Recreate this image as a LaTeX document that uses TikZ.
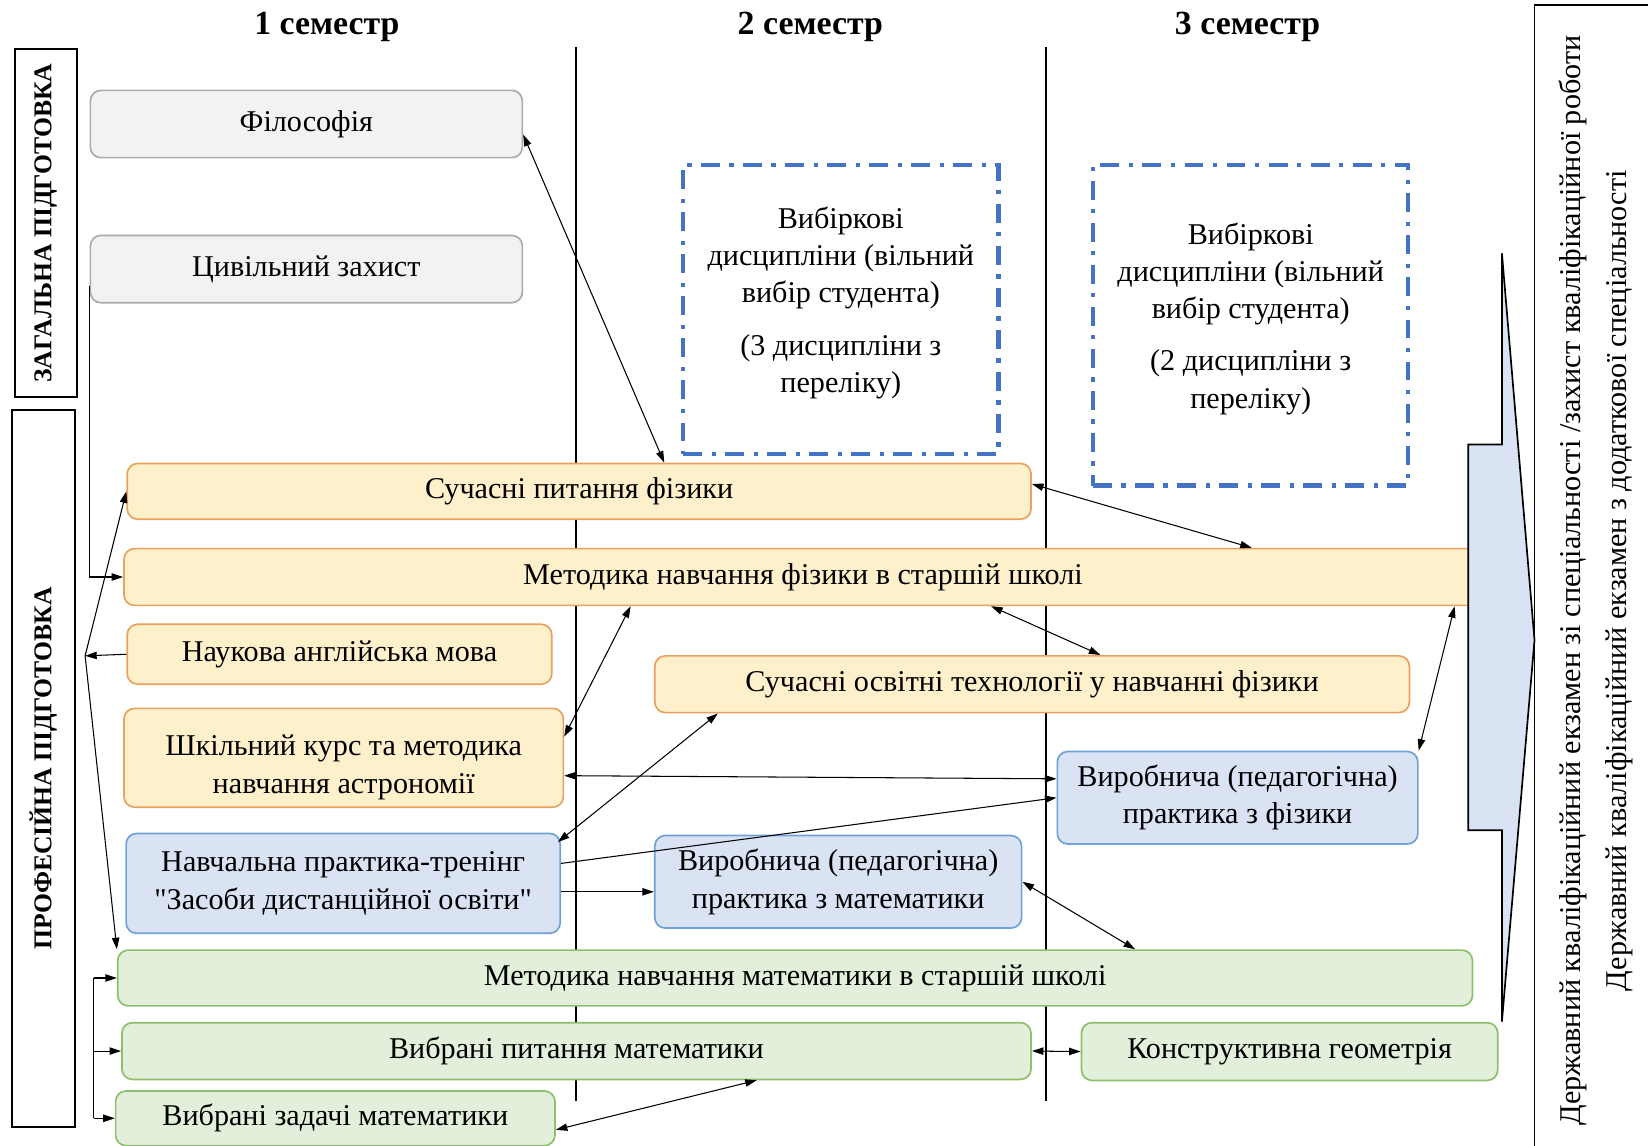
\documentclass[tikz,border=0pt]{standalone}
\usepackage{fontspec}
\setmainfont{Liberation Serif}
\usetikzlibrary{arrows.meta}

\definecolor{genfill}{HTML}{F2F2F2}
\definecolor{genline}{HTML}{ABABAB}
\definecolor{physfill}{HTML}{FFF0CC}
\definecolor{physline}{HTML}{E9A15E}
\definecolor{pracfill}{HTML}{DAE3F3}
\definecolor{pracline}{HTML}{6FA0D8}
\definecolor{mathfill}{HTML}{E2EFDA}
\definecolor{mathline}{HTML}{8DBF6D}
\definecolor{choiceline}{HTML}{4472C4}

\begin{document}
\begin{tikzpicture}[x=1pt, y=-1pt, line width=1pt, >={Triangle[length=11pt,width=7pt]},
  font=\fontsize{28.7}{35.5}\selectfont,
  basebox/.style={draw, rounded corners=10pt, line width=1.6pt, inner sep=0pt, align=center},
  genbox/.style={basebox, draw=genline, fill=genfill},
  physbox/.style={basebox, draw=physline, fill=physfill},
  pracbox/.style={basebox, draw=pracline, fill=pracfill},
  mathbox/.style={basebox, draw=mathline, fill=mathfill},
  choicebox/.style={draw=choiceline, line width=4pt, dash pattern=on 18pt off 9pt on 4pt off 9pt, align=center},
  semtitle/.style={font=\fontsize{32.2}{38}\selectfont\bfseries},
  partlabel/.style={draw, line width=1.8pt, rotate=90, inner sep=0pt, font=\fontsize{24.4}{29}\selectfont\bfseries},
  semline/.style={line width=2.2pt}]

\useasboundingbox (0,0) rectangle (1568,1090);

% semesters
\node[semtitle] (s1) at (311,26) {1 семестр};
\node[semtitle] (s2) at (771,26) {2 семестр};
\node[semtitle] (s3) at (1187,26) {3 семестр};
\draw[semline] (548,45) -- (548,1048);
\draw[semline] (995,45) -- (995,1048);

% parts
\node[partlabel, minimum width=331, minimum height=59] (gp) at (43.5,212.5) {ЗАГАЛЬНА ПІДГОТОВКА};
\node[partlabel, minimum width=682, minimum height=60] (pp) at (41,731) {ПРОФЕСІЙНА ПІДГОТОВКА};

% general
\node[genbox, minimum width=411, minimum height=64] (fil) at (291.5,118) {Філософія};
\node[genbox, minimum width=411, minimum height=64] (cz) at (291.5,256) {Цивільний захист};

% free choice
\node[choicebox, minimum width=300, minimum height=275] (ch2) at (800,294.5) {Вибіркові\\дисципліни (вільний\\вибір студента)\\[14pt](3 дисципліни з\\переліку)\rule[-19pt]{0pt}{19pt}};
\node[choicebox, minimum width=300, minimum height=305] (ch3) at (1190,309.5) {Вибіркові\\дисципліни (вільний\\вибір студента)\\[14pt](2 дисципліни з\\переліку)\rule[-19pt]{0pt}{19pt}};

% physics
\node[physbox, minimum width=860, minimum height=53] (spf) at (551,467.5) {Сучасні питання фізики};
\node[physbox, minimum width=1292, minimum height=54] (mf) at (764,549) {Методика навчання фізики в старшій школі};
\node[physbox, minimum width=404, minimum height=57] (na) at (323,622.5) {Наукова англійська мова};
\node[physbox, minimum width=418, minimum height=94] (ska) at (327,721) {\rule{0pt}{38pt}Шкільний курс та методика\\навчання астрономії};
\node[physbox, minimum width=718, minimum height=54] (sot) at (982,651) {Сучасні освітні технології у навчанні фізики};

% practice
\node[pracbox, minimum width=413, minimum height=95] (np) at (326.5,840.5) {Навчальна практика-тренінг\\\textquotedbl Засоби дистанційної освіти\textquotedbl};
\node[pracbox, minimum width=349, minimum height=88] (vpm) at (797.5,839) {Виробнича (педагогічна)\\практика з математики};
\node[pracbox, minimum width=343, minimum height=88] (vpf) at (1177.5,759) {Виробнича (педагогічна)\\практика з фізики};

% mathematics
\node[mathbox, minimum width=1289, minimum height=53] (mm) at (756.5,930.5) {Методика навчання математики в старшій школі};
\node[mathbox, minimum width=865, minimum height=54] (vpmat) at (548.5,1000) {Вибрані питання математики};
\node[mathbox, minimum width=396, minimum height=55] (kg) at (1227,1000.5) {Конструктивна геометрія};
\node[mathbox, minimum width=418, minimum height=52] (vzm) at (319,1064) {Вибрані задачі математики};

% final attestation
\filldraw[fill=pracfill, line width=1.6pt] (1397,423) -- (1429,423) -- (1429,241) -- (1460,609) -- (1429,972) -- (1429,790) -- (1397,790) -- cycle;
\node[draw, line width=1.6pt, rotate=90, inner sep=0pt, align=center, minimum width=1095, minimum height=117] (final) at (1518.5,552.5) {Державний кваліфікаційний екзамен зі спеціальності /захист кваліфікаційної роботи\\[8pt]Державний кваліфікаційний екзамен з додаткової спеціальності};

% links
\coordinate (hub) at (81,624);
\coordinate (bus) at (89,930);
\draw[->] (na.west) -- (hub);
\draw[->] (hub) -- (spf.west);
\draw[->] (hub) -- (mm.north west);
\draw[->] ([yshift=17pt]cz.south west) |- (mf.west);
\draw (bus |- mm.west) -- (bus |- vzm.west);
\draw[->] (bus |- mm.west) -- (mm.west);
\draw[->] (bus |- vpmat.west) -- (vpmat.west);
\draw[->] (bus |- vzm.west) -- (vzm.west);

\draw[<->] ([yshift=-10pt]fil.east) -- (632,0 |- spf.north);
\draw[<->] ([yshift=7pt]spf.east) -- (1191,0 |- mf.north);
\draw[<->] (943,0 |- mf.south) -- (1047,0 |- sot.north);
\draw[<->] (1384,0 |- mf.south) -- (vpf.north east);
\draw[<->] ([yshift=20pt]ska.east) -- (600,0 |- mf.south);
\draw[<->] ([yshift=-17pt]ska.east) -- ([yshift=18pt]vpf.west);
\draw[<->] ([xshift=-3pt,yshift=-9pt]np.north east) -- (683,0 |- sot.south);
\draw[->] ([yshift=19pt]np.east) -- (vpf.west);
\draw[->] ([yshift=-8pt]np.east) -- ([yshift=-8pt]np.east -| vpm.west);
\draw[<->] (vpm.east) -- (1080,0 |- mm.north);
\draw[<->] (vpmat.east) -- (kg.west);
\draw[<->] ([yshift=-11pt]vzm.east) -- (720,0 |- vpmat.south);

\end{tikzpicture}
\end{document}
